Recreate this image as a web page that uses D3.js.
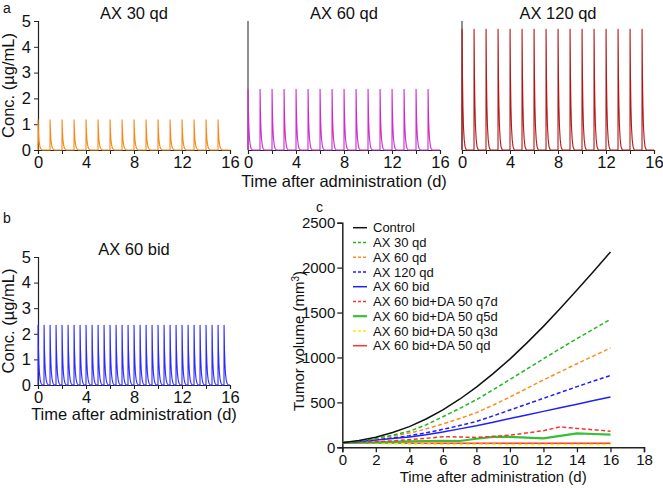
<!DOCTYPE html>
<html><head><meta charset="utf-8">
<script src="https://cdn.jsdelivr.net/npm/d3@7"></script>
<style>
body{margin:0;background:#fff;}
text{font-family:Arial,"Liberation Sans",Helvetica,sans-serif;fill:#111;}
</style></head>
<body><svg id="c" width="663" height="488"></svg>
<script>
// ---------- data ----------
const qdDoses = [0,1,2,3,4,5,6,7,8,9,10,11,12,13,14,15];
const bidDoses = [0,0.5,1,1.5,2,2.5,3,3.5,4,4.5,5,5.5,6,6.5,7,7.5,8,8.5,9,9.5,10,10.5,11,11.5,12,12.5,13,13.5,14,14.5,15,15.5];
// concentration profile after one dose (days after dose, fraction of peak)
const profileT = [0, 0.005, 0.04, 0.08, 0.12, 0.18, 0.25, 0.35];
const profileF = [0, 1, 0.6, 0.35, 0.2, 0.09, 0.03, 0];
const pkTitles = ["AX 30 qd","AX 60 qd","AX 120 qd","AX 60 bid"];
const pkPeaks = [1.17, 2.35, 4.68, 2.33];
const concTicks = [0,1,2,3,4,5];
const timeTicksA = [0,2,4,6,8,10,12,14,16];

const tvTime = [0,1,2,3,4,5,6,7,8,9,10,11,12,13,14,15,16];
const tvSeriesNames = ["Control","AX 30 qd","AX 60 qd","AX 120 qd","AX 60 bid","AX 60 bid+DA 50 q7d","AX 60 bid+DA 50 q5d","AX 60 bid+DA 50 q3d","AX 60 bid+DA 50 qd"];
const control   = [50,75,112,165,230,315,416,535,670,820,982,1160,1346,1545,1750,1960,2175];
const ax30qd    = [50,72,100,135,178,250,340,432,530,640,755,870,985,1098,1210,1318,1425];
const ax60qd    = [50,70,95,125,158,205,260,320,385,470,560,655,750,840,930,1018,1105];
const ax120qd   = [50,66,85,105,128,162,200,242,288,350,415,480,545,610,675,738,800];
const ax60bid   = [50,64,80,97,115,140,170,205,240,280,320,360,400,440,480,520,560];
const q7d       = [50,55,62,72,85,100,118,115,110,120,135,160,185,228,210,195,180];
const q5d       = [50,52,55,60,65,70,72,70,95,115,115,108,100,128,155,148,140];
const q3d       = [50,45,42,40,38,36,35,34,33,33,32,32,31,31,30,30,30];
const qdCombo   = [50,49,48,47,46,46,46,45,45,45,45,45,45,45,45,45,45];
const tvYTicks = [0,500,1000,1500,2000,2500];
const tvXTicks = [0,2,4,6,8,10,12,14,16,18];

// ---------- drawing ----------
const svg = d3.select("#c");
const FONT_A = 16.5;

function pkPoints(doses, peak){
  const pts = [[0,0]];
  doses.forEach(d => profileT.forEach((o,i) => pts.push([d+o, peak*profileF[i]])));
  pts.push([16,0]);
  return pts;
}

function pkPanel(o){
  const x = d3.scaleLinear([0,16],[o.x0,o.x1]);
  const y = d3.scaleLinear([0,5],[o.y0,o.y1]);
  const g = svg.append("g");
  const xa = g.append("g").attr("transform",`translate(0,${o.y0})`)
    .call(d3.axisBottom(x).tickValues(timeTicksA).tickSize(4).tickPadding(2)
      .tickFormat(d => d%4===0 ? String(d) : ""));
  xa.select(".domain").attr("stroke","#222").attr("stroke-width",1.2);
  xa.selectAll(".tick line").attr("stroke","#222");
  xa.selectAll("text").style("font-size",FONT_A+"px").attr("fill","#111");
  if(o.yLabels){
    const ya = g.append("g").attr("transform",`translate(${o.x0},0)`)
      .call(d3.axisLeft(y).tickValues(concTicks).tickSize(4).tickPadding(3).tickFormat(d=>String(d)));
    ya.select(".domain").attr("stroke","#222").attr("stroke-width",1.2);
    ya.selectAll(".tick line").attr("stroke","#222");
    ya.selectAll("text").style("font-size",FONT_A+"px").attr("fill","#111");
    g.append("text").attr("transform",`translate(${o.x0-24},${(o.y0+o.y1)/2}) rotate(-90)`)
      .attr("text-anchor","middle").style("font-size",FONT_A+"px").text("Conc. (µg/mL)");
  } else {
    g.append("line").attr("x1",o.x0).attr("x2",o.x0).attr("y1",o.y0).attr("y2",o.y1)
      .attr("stroke","#444").attr("stroke-width",1.2);
  }
  const line = d3.line().x(d=>x(d[0])).y(d=>y(d[1]));
  g.append("path").datum(pkPoints(o.doses,o.peak)).attr("d",line)
    .attr("fill","none").attr("stroke",o.color).attr("stroke-width",1.1).attr("stroke-linejoin","round");
  g.append("text").attr("x",(o.x0+o.x1)/2).attr("y",o.y1-2).attr("text-anchor","middle")
    .style("font-size",FONT_A+"px").text(o.title);
}

pkPanel({x0:38,x1:230,y0:150,y1:21,title:pkTitles[0],peak:pkPeaks[0],color:"#f5891c",doses:qdDoses,yLabels:true});
pkPanel({x0:248,x1:440,y0:150,y1:21,title:pkTitles[1],peak:pkPeaks[1],color:"#cc2ccc",doses:qdDoses,yLabels:false});
pkPanel({x0:462,x1:654,y0:150,y1:21,title:pkTitles[2],peak:pkPeaks[2],color:"#b01818",doses:qdDoses,yLabels:false});
pkPanel({x0:38,x1:230,y0:385,y1:257,title:pkTitles[3],peak:pkPeaks[3],color:"#2a2aff",doses:bidDoses,yLabels:true});

svg.append("text").attr("x",344).attr("y",187).attr("text-anchor","middle")
  .style("font-size",FONT_A+"px").text("Time after administration (d)");
svg.append("text").attr("x",134).attr("y",420).attr("text-anchor","middle")
  .style("font-size",FONT_A+"px").text("Time after administration (d)");

// panel labels
svg.append("text").attr("x",3).attr("y",13).style("font-size","14px").text("a");
svg.append("text").attr("x",3).attr("y",223).style("font-size","14px").text("b");
svg.append("text").attr("x",316).attr("y",212).style("font-size","14px").text("c");

// ---------- panel c ----------
const xc = d3.scaleLinear([0,18],[342.3,644]);
const yc = d3.scaleLinear([0,2500],[447.3,222.7]);
const gc = svg.append("g");
const xca = gc.append("g").attr("transform","translate(0,447.3)")
  .call(d3.axisBottom(xc).tickValues(tvXTicks).tickSize(5).tickPadding(2).tickFormat(d=>String(d)));
const yca = gc.append("g").attr("transform","translate(342.3,0)")
  .call(d3.axisLeft(yc).tickValues(tvYTicks).tickSize(5).tickPadding(2).tickFormat(d=>String(d)));
[xca,yca].forEach(a=>{
  a.select(".domain").attr("stroke","#222").attr("stroke-width",1.5);
  a.selectAll(".tick line").attr("stroke","#222").attr("stroke-width",1.3);
  a.selectAll("text").style("font-size","15px").attr("fill","#111");
});
gc.append("text").attr("x",(342.3+644)/2).attr("y",482).attr("text-anchor","middle")
  .style("font-size","15px").text("Time after administration (d)");
const yt = gc.append("text").attr("transform","translate(304,341) rotate(-90)")
  .attr("text-anchor","middle").style("font-size","15px");
yt.append("tspan").text("Tumor volume (mm");
yt.append("tspan").attr("dy",-5).style("font-size","10px").text("3");
yt.append("tspan").attr("dy",5).text(")");

const tvStyles = [
  {color:"#111111",dash:null,w:1.5},
  {color:"#22b822",dash:"4,2.5",w:1.5},
  {color:"#ff8c1a",dash:"4,2.5",w:1.5},
  {color:"#1f1fff",dash:"4,2.5",w:1.5},
  {color:"#1f1fff",dash:null,w:1.5},
  {color:"#ff3030",dash:"4,2.5",w:1.5},
  {color:"#33c033",dash:null,w:2.2},
  {color:"#ffee00",dash:"4,2.5",w:1.5},
  {color:"#ff3030",dash:null,w:1.5}
];
const tvData = [control,ax30qd,ax60qd,ax120qd,ax60bid,q7d,q5d,q3d,qdCombo];
const lineC = d3.line().x((d,i)=>xc(tvTime[i])).y(d=>yc(d));
const order = [8,7,6,5,4,3,2,1,0];
order.forEach(k=>{
  gc.append("path").datum(tvData[k]).attr("d",lineC).attr("fill","none")
    .attr("stroke",tvStyles[k].color).attr("stroke-width",tvStyles[k].w)
    .attr("stroke-dasharray",tvStyles[k].dash);
});
tvSeriesNames.forEach((n,i)=>{
  const yy = 227.7 + i*14.75;
  gc.append("line").attr("x1",353).attr("x2",367).attr("y1",yy).attr("y2",yy)
    .attr("stroke",tvStyles[i].color).attr("stroke-width",tvStyles[i].w)
    .attr("stroke-dasharray",tvStyles[i].dash ? "3,2" : null);
  gc.append("text").attr("x",373).attr("y",yy+4.7).style("font-size","13px").text(n);
});
</script></body></html>
